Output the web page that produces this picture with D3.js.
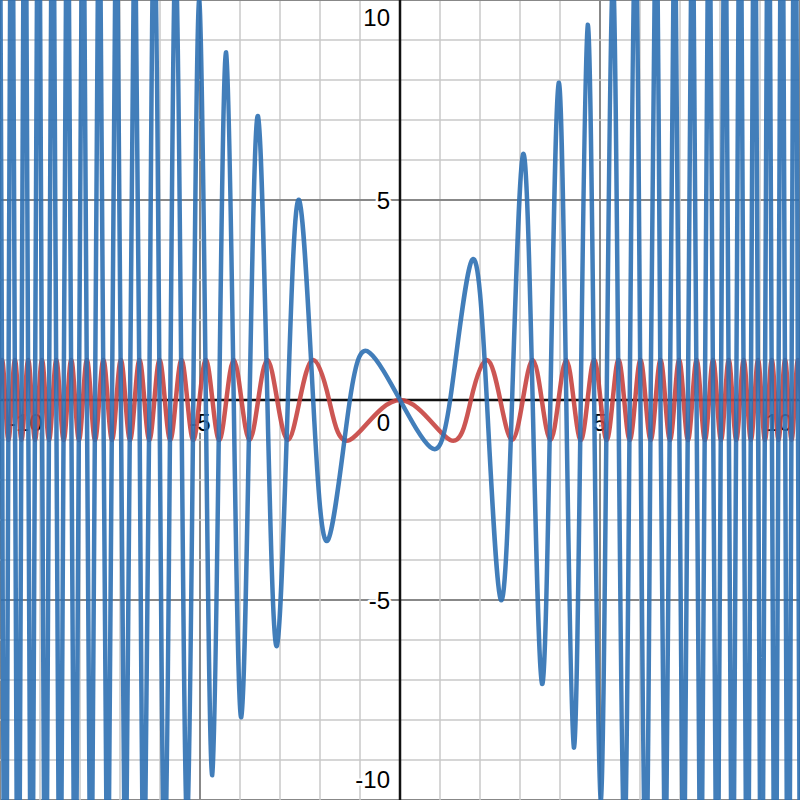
<!DOCTYPE html>
<html>
<head>
<meta charset="utf-8">
<script src="https://cdn.jsdelivr.net/npm/d3@7"></script>
<style>
  html, body { margin: 0; padding: 0; background: #fff; }
  svg { display: block; }
  .lbl { font-family: "Liberation Sans", Arial, sans-serif; font-size: 24px; fill: #000;
         stroke: #fff; stroke-width: 5px; stroke-linejoin: round; paint-order: stroke; }
</style>
</head>
<body>
<div id="chart"></div>
<script>
// knots, for x >= 0 (red curve is even, blue curve is odd)
var redX = [0, 1.2533, 1.7725, 2.1708, 2.5066, 2.8025, 3.0700, 3.3160, 3.5449, 3.7599,
    3.9633, 4.1568, 4.3416, 4.5189, 4.6895, 4.8541, 5.0133, 5.1675, 5.3174, 5.4631,
    5.6050, 5.7434, 5.8786, 6.0107, 6.1400, 6.2666, 6.3907, 6.5124, 6.6319, 6.7493,
    6.8647, 6.9782, 7.0898, 7.1997, 7.3080, 7.4147, 7.5199, 7.6236, 7.7260, 7.8269,
    7.9267, 8.0251, 8.1224, 8.2185, 8.3135, 8.4075, 8.5004, 8.5923, 8.6832, 8.7732,
    8.8623, 8.9504, 9.0378, 9.1242, 9.2099, 9.2948, 9.3789, 9.4623, 9.5449, 9.6269,
    9.7081, 9.7887, 9.8686, 9.9478, 10.0265];
var redY = [0, -1, 0, 1, 0, -1, 0, 1, 0, -1,
    0, 1, 0, -1, 0, 1, 0, -1, 0, 1,
    0, -1, 0, 1, 0, -1, 0, 1, 0, -1,
    0, 1, 0, -1, 0, 1, 0, -1, 0, 1,
    0, -1, 0, 1, 0, -1, 0, 1, 0, -1,
    0, 1, 0, -1, 0, 1, 0, -1, 0, 1,
    0, -1, 0, 1, 0];

var blueX = [0, 0.76, 1.2533, 1.8, 2.1708, 2.5223, 2.8025, 3.0786, 3.3160, 3.5505,
    3.7599, 3.9673, 4.1568, 4.3447, 4.5189, 4.6919, 4.8541, 5.0152, 5.1675, 5.3190,
    5.4631, 5.6064, 5.7434, 5.8798, 6.0107, 6.1411, 6.2666, 6.3916, 6.5124, 6.6328,
    6.7493, 6.8655, 6.9782, 7.0905, 7.1997, 7.3087, 7.4147, 7.5205, 7.6236, 7.7265,
    7.8269, 7.9272, 8.0251, 8.1229, 8.2185, 8.3140, 8.4075, 8.5008, 8.5923, 8.6836,
    8.7732, 8.8626, 8.9504, 9.0381, 9.1242, 9.2103, 9.2948, 9.3792, 9.4623, 9.5452,
    9.6269, 9.7084, 9.7887, 9.8689, 9.9478, 10.0268];
var blueY = [0, -1.18, 0, 3.5, 0, -5.0, 0, 6.15, 0, -7.10,
    0, 7.93, 0, -8.69, 0, 9.38, 0, -10.03, 0, 10.64,
    0, -11.21, 0, 11.76, 0, -12.28, 0, 12.78, 0, -13.27,
    0, 13.73, 0, -14.18, 0, 14.62, 0, -15.04, 0, 15.45,
    0, -15.85, 0, 16.25, 0, -16.63, 0, 17.00, 0, -17.37,
    0, 17.73, 0, -18.08, 0, 18.42, 0, -18.76, 0, 19.09,
    0, -19.42, 0, 19.74, 0, -20.05];

var xLabels = [-10, -5, 5, 10];
var yLabels = [10, 5, -5, -10];

var width = 800,
    height = 800;

var x = d3.scaleLinear().domain([-10, 10]).range([0, width]);
var y = d3.scaleLinear().domain([-10, 10]).range([height, 0]);

function mirror(xs, ys, sign) {
    var pts = [];
    for (var i = xs.length - 1; i > 0; i--) pts.push([-xs[i], sign * ys[i]]);
    for (var j = 0; j < xs.length; j++) pts.push([xs[j], ys[j]]);
    return pts;
}

var redPts = mirror(redX, redY, 1);
var bluePts = mirror(blueX, blueY, -1);

var svg = d3.select('#chart').append('svg')
    .attr('width', width)
    .attr('height', height);

svg.append('defs').append('clipPath').attr('id', 'clip')
    .append('rect').attr('width', width).attr('height', height);

// grid
var gridVals = x.ticks(20);
var grid = svg.append('g');
gridVals.forEach(function (v) {
    if (v === 0) return;
    var major = v % 5 === 0;
    grid.append('line')
        .attr('x1', x(v)).attr('x2', x(v)).attr('y1', 0).attr('y2', height)
        .attr('stroke', major ? '#888888' : '#c8c8c8')
        .attr('stroke-width', major ? 2 : 1.5);
    grid.append('line')
        .attr('y1', y(v)).attr('y2', y(v)).attr('x1', 0).attr('x2', width)
        .attr('stroke', major ? '#888888' : '#c8c8c8')
        .attr('stroke-width', major ? 2 : 1.5);
});

// axes
svg.append('line')
    .attr('x1', 0).attr('x2', width).attr('y1', y(0)).attr('y2', y(0))
    .attr('stroke', '#111').attr('stroke-width', 2.5);
svg.append('line')
    .attr('x1', x(0)).attr('x2', x(0)).attr('y1', 0).attr('y2', height)
    .attr('stroke', '#111').attr('stroke-width', 2.5);

// labels
var labels = svg.append('g');
xLabels.forEach(function (v) {
    var t = labels.append('text').attr('class', 'lbl')
        .attr('text-anchor', 'middle')
        .attr('x', x(v))
        .attr('y', y(0) + 31)
        .text(v);
    var w = t.node().getComputedTextLength();
    var cx = Math.max(8 + w / 2, Math.min(width - 8 - w / 2, x(v)));
    t.attr('x', cx);
});
labels.append('text').attr('class', 'lbl')
    .attr('text-anchor', 'end')
    .attr('x', x(0) - 10)
    .attr('y', y(0) + 31)
    .text(0);
yLabels.forEach(function (v) {
    var cy = Math.max(17, Math.min(height - 21, y(v)));
    labels.append('text').attr('class', 'lbl')
        .attr('text-anchor', 'end')
        .attr('x', x(0) - 10)
        .attr('y', cy + 8.5)
        .text(v);
});

// curves
var line = d3.line()
    .x(function (d) { return x(d[0]); })
    .y(function (d) { return y(d[1]); })
    .curve(d3.curveNatural);

var plot = svg.append('g').attr('clip-path', 'url(#clip)');

plot.append('path')
    .datum(redPts)
    .attr('d', line)
    .attr('fill', 'none')
    .attr('stroke', '#c74440')
    .attr('stroke-opacity', 0.9)
    .attr('stroke-width', 4.5)
    .attr('stroke-linejoin', 'round');

plot.append('path')
    .datum(bluePts)
    .attr('d', line)
    .attr('fill', 'none')
    .attr('stroke', '#2d70b3')
    .attr('stroke-opacity', 0.9)
    .attr('stroke-width', 4.5)
    .attr('stroke-linejoin', 'round');
</script>
</body>
</html>
